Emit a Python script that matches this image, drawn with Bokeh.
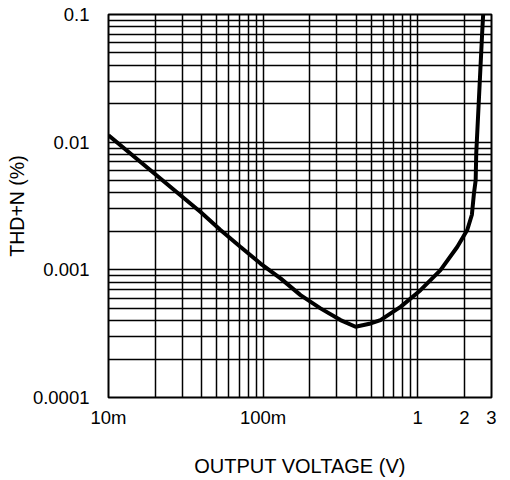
from bokeh.plotting import figure
from bokeh.models import FixedTicker, Range1d
from bokeh.embed import file_html
from bokeh.resources import INLINE

# Data
voltage = [0.01, 0.0394, 0.0530, 0.0715, 0.0962, 0.1296, 0.1746, 0.235, 0.3167,
           0.396, 0.496, 0.574, 0.774, 1.042, 1.403, 1.80, 2.09, 2.24, 2.31,
           2.37, 2.39, 2.485, 2.61, 2.65]
thd_n = [0.0113, 0.00284, 0.00205, 0.00151, 0.00112, 0.000857, 0.000634, 0.000499,
         0.000404, 0.000358, 0.000380, 0.000404, 0.000513, 0.000693, 0.000995,
         0.00151, 0.00205, 0.00270, 0.00397, 0.00504, 0.00816, 0.0213, 0.0714, 0.1]

x_ticks = [0.01, 0.1, 1.0, 2.0, 3.0]
x_tick_labels = ["10m", "100m", "1", "2", "3"]
y_ticks = [0.0001, 0.001, 0.01, 0.1]
y_tick_labels = ["0.0001", "0.001", "0.01", "0.1"]

x_label = "OUTPUT VOLTAGE (V)"
y_label = "THD+N (%)"

# grid line positions (log decades with 2..9 subdivisions)
x_grid = [d * 10.0 ** k for k in (-2, -1) for d in range(1, 10)] + [1.0, 2.0, 3.0]
y_grid = [d * 10.0 ** k for k in (-4, -3, -2) for d in range(1, 10)] + [0.1]

FONT = "Liberation Sans"

p = figure(x_axis_type="log", y_axis_type="log",
           x_range=Range1d(0.01, 3.0), y_range=Range1d(0.0001, 0.1),
           frame_width=383, frame_height=383,
           min_border_left=108, min_border_right=10,
           min_border_top=14, min_border_bottom=81,
           output_backend="svg", toolbar_location=None)

p.background_fill_color = "white"
p.border_fill_color = "white"
p.outline_line_color = "black"
p.outline_line_width = 2
p.outline_line_alpha = 1.0

for g, ticks in ((p.xgrid, x_grid), (p.ygrid, y_grid)):
    g.ticker = FixedTicker(ticks=ticks)
    g.grid_line_color = "black"
    g.grid_line_width = 1.5
    g.grid_line_alpha = 1.0

p.xaxis.ticker = FixedTicker(ticks=x_ticks)
p.xaxis.major_label_overrides = dict(zip(x_ticks, x_tick_labels))
p.yaxis.ticker = FixedTicker(ticks=y_ticks)
p.yaxis.major_label_overrides = dict(zip(y_ticks, y_tick_labels))

for ax in (p.xaxis, p.yaxis):
    ax.axis_line_color = None
    ax.major_tick_line_color = None
    ax.minor_tick_line_color = None
    ax.major_label_text_font = FONT
    ax.major_label_text_font_size = "18.5px"
    ax.major_label_text_color = "black"
    ax.axis_label_text_font = FONT
    ax.axis_label_text_font_style = "normal"
    ax.axis_label_text_color = "black"

p.xaxis.axis_label_text_font_size = "20px"
p.yaxis.axis_label_text_font_size = "19.5px"
p.xaxis.axis_label = x_label
p.yaxis.axis_label = y_label
p.xaxis.major_label_standoff = 3
p.xaxis.axis_label_standoff = 24
p.yaxis.major_label_standoff = 13
p.yaxis.axis_label_standoff = 2

p.line(voltage, thd_n, line_color="black", line_width=4)

open("out.html", "w").write(file_html(p, INLINE))
